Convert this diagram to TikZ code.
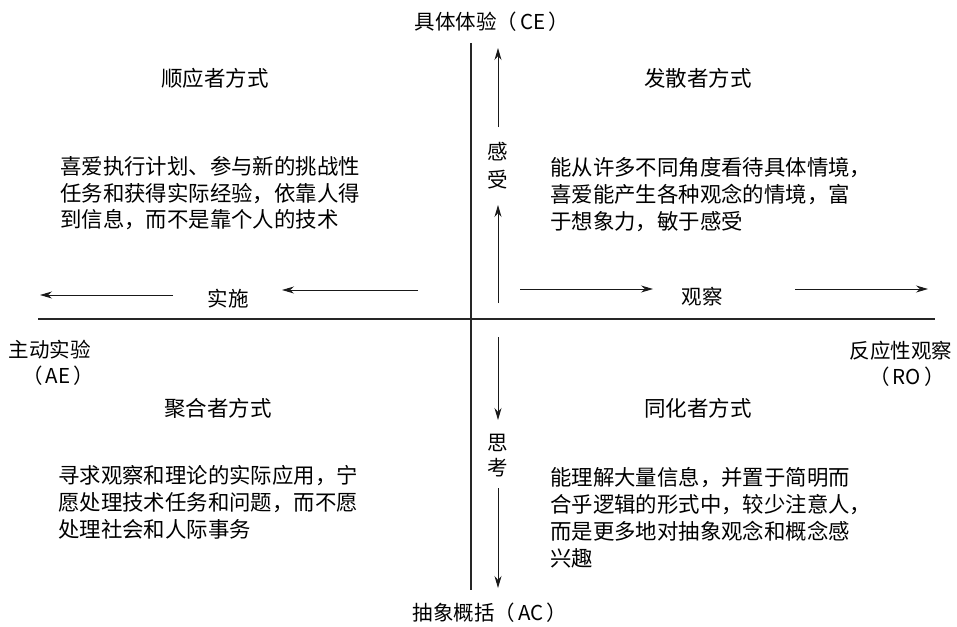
\documentclass[tikz,border=0pt]{standalone}
\usepackage{fontspec}
\setmainfont{Liberation Sans}
\newfontfamily\cjk{Noto Sans CJK SC}
\usetikzlibrary{arrows.meta}
\begin{document}
\begin{tikzpicture}[x=1pt,y=-1pt,
  txt/.style={font=\cjk\fontsize{20.5}{27}\selectfont, inner sep=0pt, text=black},
  ttl/.style={txt, font=\cjk\fontsize{21.5}{27}\selectfont},
  body/.style={txt, font=\cjk\fontsize{21.4}{26.8}\selectfont, align=left, anchor=north west},
  axisline/.style={line width=1.1pt, draw=black!85},
  arr/.style={line width=0.95pt, draw=black!90, -{Stealth[length=12pt,width=7pt]}}]
\useasboundingbox (0,0) rectangle (957,626);

% axes
\coordinate (vtop) at (471,43);
\coordinate (vbot) at (471,590);
\coordinate (hl) at (38,319);
\coordinate (hr) at (935,319);
\draw[axisline] (vtop) -- (vbot);
\draw[axisline] (hl) -- (hr);

% pole labels
\node[txt] (ce) at (492,22) {具体体验（\hspace{3pt}CE\hspace{3pt}）};
\node[txt] (ac) at (490,613) {抽象概括（\hspace{3pt}AC\hspace{3pt}）};
\node[txt] (ae1) at (50,350) {主动实验};
\node[txt] (ae2) at (58,376) {（\hspace{3pt}AE\hspace{3pt}）};
\node[txt] (ro1) at (901,351) {反应性观察};
\node[txt] (ro2) at (907,377) {（\hspace{3pt}RO\hspace{3pt}）};

% quadrant titles
\node[ttl] (t1) at (215,78) {顺应者方式};
\node[ttl] (t2) at (698,78) {发散者方式};
\node[ttl] (t3) at (218,408) {聚合者方式};
\node[ttl] (t4) at (698,408) {同化者方式};

% bodies
\node[body] (b1) at (60,156) {喜爱执行计划、参与新的挑战性\\任务和获得实际经验，依靠人得\\到信息，而不是靠个人的技术};
\node[body] (b2) at (550,157.5) {能从许多不同角度看待具体情境，\\喜爱能产生各种观念的情境，富\\于想象力，敏于感受};
\node[body] (b3) at (58,465.5) {寻求观察和理论的实际应用，宁\\愿处理技术任务和问题，而不愿\\处理社会和人际事务};
\node[body] (b4) at (550,467.5) {能理解大量信息，并置于简明而\\合乎逻辑的形式中，较少注意人，\\而是更多地对抽象观念和概念感\\兴趣};

% axis process labels
\node[txt] (gan) at (498,152) {感};
\node[txt] (shou) at (498,180) {受};
\node[txt] (si) at (498,443) {思};
\node[txt] (kao) at (498,468) {考};
\node[txt] (shishi) at (228,299) {实施};
\node[txt] (guancha) at (702,297) {观察};

% arrows
\coordinate (u1s) at (498,127); \coordinate (u1e) at (498,48);
\coordinate (u2s) at (498,303); \coordinate (u2e) at (498,205);
\coordinate (d1s) at (498,337); \coordinate (d1e) at (498,420);
\coordinate (d2s) at (498,488); \coordinate (d2e) at (498,588);
\coordinate (l1s) at (173,295); \coordinate (l1e) at (40,295);
\coordinate (l2s) at (418,290); \coordinate (l2e) at (282,290);
\coordinate (r1s) at (520,289); \coordinate (r1e) at (653,289);
\coordinate (r2s) at (795,289); \coordinate (r2e) at (928,289);
\draw[arr] (u1s) -- (u1e);
\draw[arr] (u2s) -- (u2e);
\draw[arr] (d1s) -- (d1e);
\draw[arr] (d2s) -- (d2e);
\draw[arr] (l1s) -- (l1e);
\draw[arr] (l2s) -- (l2e);
\draw[arr] (r1s) -- (r1e);
\draw[arr] (r2s) -- (r2e);
\end{tikzpicture}
\end{document}
